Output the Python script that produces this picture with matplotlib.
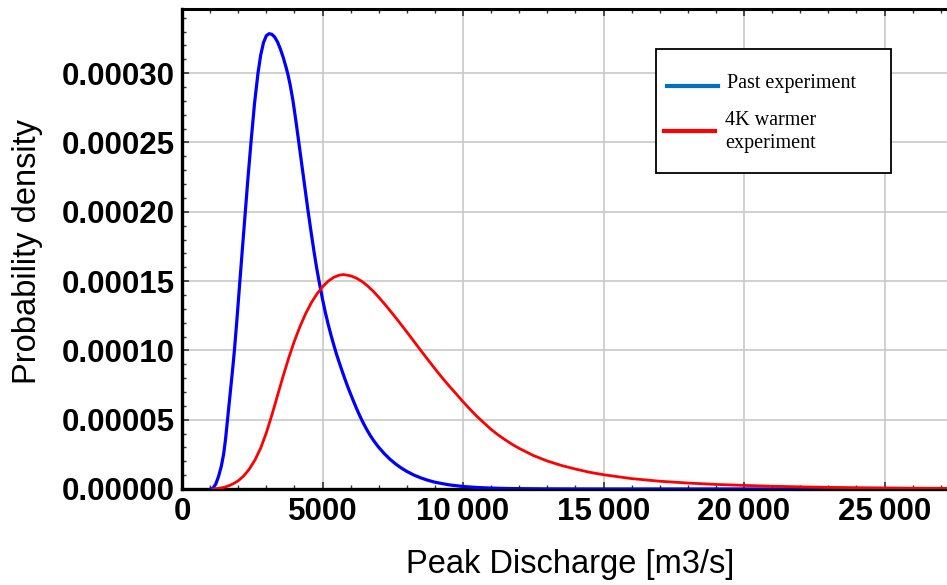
import numpy as np
import matplotlib
matplotlib.use("Agg")
import matplotlib.pyplot as plt
from matplotlib.lines import Line2D
from matplotlib.patches import Rectangle

# ---------------- data ----------------
# Past experiment (blue): discharge in m3/s, density in units of 1e-5
past_x = [1000, 1060, 1100, 1200, 1300, 1400, 1480, 1550, 1620, 1700, 1800,
          1865, 1950, 2060, 2150, 2253, 2350, 2455, 2580, 2704, 2800, 2900,
          3000, 3100, 3200, 3300, 3400, 3500, 3600, 3700, 3771, 3850, 3950,
          4050, 4151, 4250, 4350, 4483, 4600, 4700, 4800, 4890, 5000, 5100,
          5200, 5300, 5400, 5490, 5600, 5700, 5800, 5900, 6000, 6100, 6200,
          6300, 6400, 6500, 6600, 6700, 6800, 6900, 7000, 7200, 7400, 7600,
          7800, 8000, 8250, 8500, 8750, 9000, 9500, 10000, 10500, 11000,
          11500, 12000, 13000, 14000, 15000, 16000, 27224]
past_y = [0.0, 0.0, 0.05, 0.35, 0.9, 1.65, 2.5, 3.6, 5.0, 6.6, 8.6,
          10.0, 12.1, 15.0, 17.35, 20.0, 22.5, 25.0, 27.8, 30.0, 31.3, 32.2,
          32.7, 32.85, 32.8, 32.6, 32.25, 31.75, 31.15, 30.45, 29.9, 29.15, 28.0,
          26.6, 25.1, 23.6, 22.1, 20.1, 18.45, 17.1, 15.85, 14.85, 13.7, 12.75,
          11.9, 11.12, 10.4, 9.78, 9.1, 8.5, 7.92, 7.37, 6.85, 6.35, 5.86,
          5.4, 4.97, 4.57, 4.2, 3.86, 3.55, 3.27, 3.01, 2.55, 2.15, 1.81,
          1.52, 1.27, 1.01, 0.8, 0.63, 0.49, 0.3, 0.18, 0.11, 0.065,
          0.04, 0.024, 0.008, 0.003, 0.001, 0.0, 0.0]

# 4K warmer experiment (red)
warm_x = [1100, 1250, 1400, 1550, 1700, 1850, 2000, 2200, 2400, 2600, 2800,
          3000, 3200, 3400, 3600, 3800, 4000, 4200, 4400, 4600, 4800, 5000,
          5200, 5400, 5600, 5750, 6000, 6200, 6400, 6600, 6800, 7000, 7250,
          7500, 7750, 8000, 8250, 8500, 8750, 9000, 9250, 9500, 9750, 10000,
          10250, 10500, 10750, 11000, 11250, 11500, 11750, 12000, 12500,
          13000, 13500, 14000, 14500, 15000, 16000, 17000, 18000, 19000,
          20000, 21000, 22000, 23000, 24000, 25000, 26000, 27224]
warm_y = [0.0, 0.03, 0.08, 0.15, 0.26, 0.41, 0.59, 0.95, 1.45, 2.11, 2.95,
          4.05, 5.35, 6.75, 8.15, 9.47, 10.67, 11.73, 12.65, 13.43, 14.07, 14.59,
          14.99, 15.27, 15.43, 15.47, 15.38, 15.22, 14.98, 14.66, 14.28, 13.84, 13.25,
          12.63, 11.99, 11.33, 10.66, 9.99, 9.33, 8.68, 8.05, 7.45, 6.88, 6.3,
          5.75, 5.23, 4.76, 4.3, 3.9, 3.55, 3.22, 2.93, 2.42,
          2.02, 1.7, 1.44, 1.21, 1.03, 0.75, 0.56, 0.43, 0.33,
          0.26, 0.2, 0.155, 0.12, 0.095, 0.075, 0.06, 0.045]

x_ticks = [0, 5000, 10000, 15000, 20000, 25000]
x_tick_labels = ["0", "5000", "10\u2009000", "15\u2009000", "20\u2009000", "25\u2009000"]
y_ticks = [0.0, 0.00005, 0.00010, 0.00015, 0.00020, 0.00025, 0.00030]
y_tick_labels = ["0.00000", "0.00005", "0.00010", "0.00015", "0.00020", "0.00025", "0.00030"]

legend_labels = ["Past experiment", "4K warmer\nexperiment"]
x_label = "Peak Discharge [m3/s]"
y_label = "Probability density"

# ---------------- figure ----------------
W, H = 947, 585
fig = plt.figure(figsize=(W / 100, H / 100), dpi=100)
fig.patch.set_facecolor("white")

left_px, bottom_px, top_px = 182, 489, 9
ax = fig.add_axes([left_px / W, 1 - bottom_px / H, 1 - left_px / W, (bottom_px - top_px) / H])

ax.plot(past_x, np.array(past_y) * 1e-5, color="#0000ff", lw=2.3, solid_capstyle="round", zorder=3)
ax.plot(warm_x, np.array(warm_y) * 1e-5, color="#ff0000", lw=2.0, solid_capstyle="round", zorder=3)

ax.set_xlim(0, 27224)
ax.set_ylim(0, 0.0003463)

tick_font = {"family": ["Liberation Sans", "DejaVu Sans"], "weight": "bold", "size": 22.5}
ax.set_xticks(x_ticks)
ax.set_xticklabels(x_tick_labels, fontdict=tick_font)
ax.set_yticks(y_ticks)
ax.set_yticklabels(y_tick_labels, fontdict=tick_font)
ax.set_xticks(np.arange(0, 27224, 1000), minor=True)
ax.set_yticks(np.arange(0, 0.000346, 0.00001), minor=True)

ax.tick_params(which="both", direction="in", top=True, right=False, colors="#333333",
               labelcolor="black")
ax.tick_params(which="major", length=5, width=1.2)
ax.tick_params(which="minor", length=3, width=1.0)
ax.tick_params(axis="y", pad=5)
ax.tick_params(axis="x", pad=6)

ax.grid(True, which="major", color="#c8c8c8", lw=1.2, zorder=0)
ax.set_axisbelow(True)

for s in ["left", "bottom"]:
    ax.spines[s].set_linewidth(2.4)
    ax.spines[s].set_color("black")
ax.spines["top"].set_linewidth(2.2)
ax.spines["top"].set_color("black")
ax.spines["right"].set_visible(False)

label_font = {"family": ["Liberation Sans", "DejaVu Sans"], "size": 23.5}
fig.text(28 / W, 1 - 252 / H, y_label, rotation=90, ha="center", va="center", fontdict=label_font)
fig.text(570 / W, 1 - 565 / H, x_label, ha="center", va="center", fontdict=label_font)

# ---------------- legend (drawn manually) ----------------
bx0, by0, bx1, by1 = 656, 49, 891, 173
fig.add_artist(Rectangle((bx0 / W, 1 - by1 / H), (bx1 - bx0) / W, (by1 - by0) / H,
                         transform=fig.transFigure, facecolor="white", edgecolor="black",
                         lw=1.3, zorder=10))
fig.add_artist(Line2D([667 / W, 718 / W], [1 - 86 / H, 1 - 86 / H], transform=fig.transFigure,
                      color="#0070c0", lw=3.0, zorder=11))
fig.add_artist(Line2D([664 / W, 715 / W], [1 - 131 / H, 1 - 131 / H], transform=fig.transFigure,
                      color="#ff0000", lw=3.0, zorder=11))
leg_font = {"family": ["Liberation Serif", "DejaVu Serif"], "size": 14.5}
fig.text(727 / W, 1 - 84 / H, legend_labels[0], ha="left", va="center", fontdict=leg_font, zorder=12)
fig.text(725 / W, 1 - 132 / H, legend_labels[1], ha="left", va="center", fontdict=leg_font,
         linespacing=1.3, zorder=12)

fig.savefig("out.png", dpi=100, facecolor="white")
